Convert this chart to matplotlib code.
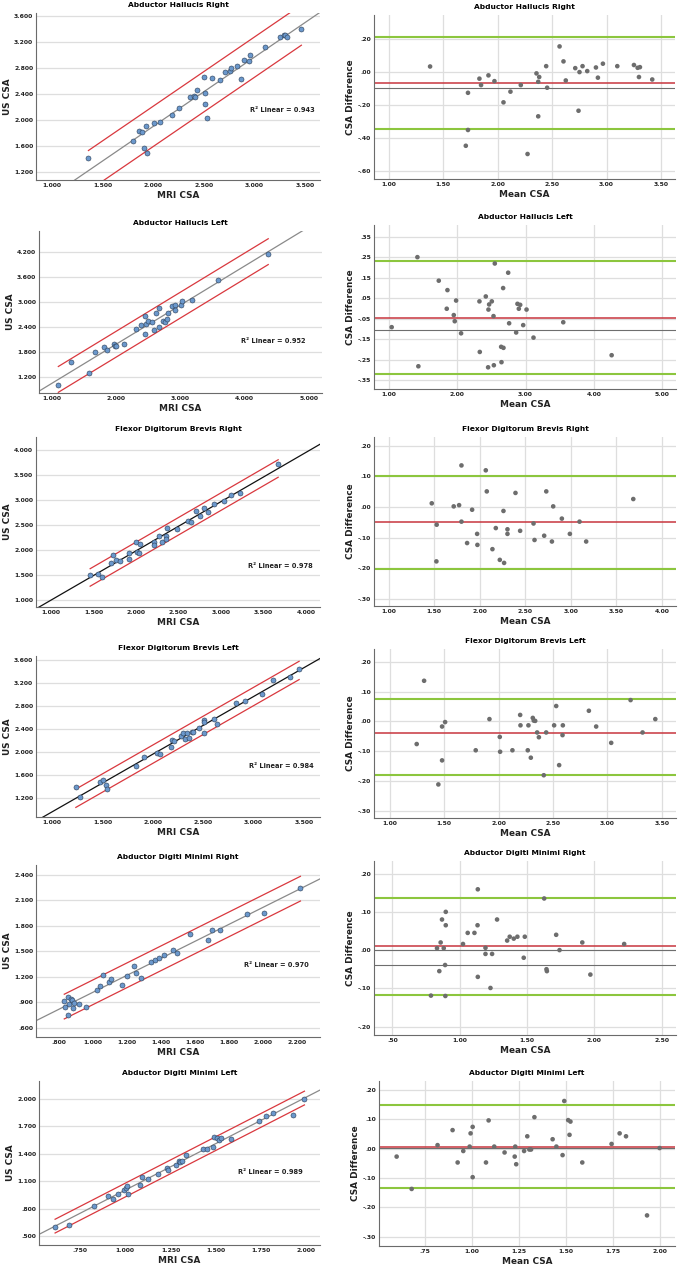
import numpy as np
import matplotlib.pyplot as plt
from matplotlib.ticker import FuncFormatter

titles = ["Abductor Hallucis Right", "Abductor Hallucis Left",
          "Flexor Digitorum Brevis Right", "Flexor Digitorum Brevis Left",
          "Abductor Digiti Minimi Right", "Abductor Digiti Minimi Left"]

# ---- MRI vs US scatter data ----
ahr_mri = [1.361, 1.797, 1.856, 1.89, 1.925, 1.909, 1.935, 2.004, 2.063, 2.184, 2.257, 2.368,
           2.40, 2.41, 2.43, 2.51, 2.516, 2.529, 2.50, 2.578, 2.657, 2.71, 2.76, 2.77, 2.83,
           2.87, 2.90, 2.946, 2.952, 3.10, 3.254, 3.29, 3.30, 3.32, 3.464]
ahr_us = [1.415, 1.682, 1.825, 1.82, 1.913, 1.569, 1.497, 1.954, 1.974, 2.072, 2.179, 2.359,
          2.364, 2.359, 2.462, 2.415, 2.246, 2.036, 2.656, 2.646, 2.61, 2.733, 2.754, 2.795, 2.83,
          2.63, 2.918, 2.90, 2.995, 3.118, 3.277, 3.30, 3.31, 3.28, 3.40]

ahl_mri = [1.104, 1.301, 1.587, 1.675, 1.821, 1.857, 1.977, 1.987, 2.008, 2.127, 2.314, 2.397,
           2.449, 2.449, 2.47, 2.50, 2.558, 2.595, 2.631, 2.673, 2.673, 2.73, 2.771, 2.792, 2.808,
           2.875, 2.917, 2.927, 3.016, 3.026, 3.192, 3.592, 4.371]
ahl_us = [1.008, 1.56, 1.304, 1.808, 1.92, 1.864, 2.008, 1.944, 1.944, 2.008, 2.36, 2.464,
          2.672, 2.248, 2.48, 2.544, 2.536, 2.328, 2.736, 2.856, 2.416, 2.56, 2.536, 2.60, 2.744,
          2.92, 2.944, 2.824, 2.944, 3.032, 3.064, 3.544, 4.168]

fdbr_mri = [1.461, 1.555, 1.602, 1.711, 1.73, 1.766, 1.813, 1.914, 1.914, 2.004, 2.008, 2.035,
            2.047, 2.211, 2.211, 2.266, 2.305, 2.348, 2.352, 2.367, 2.484, 2.613, 2.652, 2.707,
            2.754, 2.805, 2.844, 2.918, 3.035, 3.117, 3.227, 3.672]
fdbr_us = [1.487, 1.507, 1.453, 1.727, 1.887, 1.793, 1.78, 1.927, 1.82, 2.147, 1.953, 1.927,
           2.113, 2.153, 2.087, 2.273, 2.153, 2.28, 2.207, 2.433, 2.42, 2.58, 2.56, 2.767,
           2.673, 2.827, 2.753, 2.907, 2.967, 3.093, 3.133, 3.72]

fdbl_mri = [1.237, 1.277, 1.478, 1.504, 1.537, 1.55, 1.837, 1.912, 2.038, 2.067, 2.179, 2.189,
            2.206, 2.278, 2.304, 2.318, 2.337, 2.36, 2.384, 2.403, 2.463, 2.506, 2.512, 2.512,
            2.604, 2.637, 2.822, 2.917, 3.085, 3.19, 3.358, 3.451]
fdbl_us = [1.386, 1.212, 1.479, 1.508, 1.415, 1.345, 1.748, 1.916, 1.986, 1.969, 2.086, 2.214,
           2.196, 2.272, 2.324, 2.22, 2.336, 2.237, 2.342, 2.353, 2.423, 2.563, 2.517, 2.33,
           2.58, 2.493, 2.86, 2.895, 3.012, 3.256, 3.315, 3.454]

admr_mri = [0.835, 0.839, 0.855, 0.861, 0.873, 0.881, 0.884, 0.890, 0.855, 0.923, 0.964, 1.026,
            1.046, 1.065, 1.098, 1.112, 1.176, 1.205, 1.245, 1.256, 1.288, 1.346, 1.366, 1.393,
            1.42, 1.473, 1.494, 1.572, 1.681, 1.705, 1.748, 1.908, 2.009, 2.221]
admr_us = [0.920, 0.842, 0.959, 0.881, 0.936, 0.924, 0.838, 0.889, 0.748, 0.881, 0.842, 1.049,
           1.096, 1.228, 1.142, 1.178, 1.107, 1.205, 1.326, 1.248, 1.189, 1.373, 1.40, 1.424,
           1.459, 1.514, 1.483, 1.709, 1.635, 1.748, 1.756, 1.936, 1.951, 2.244]

adml_mri = [0.612, 0.691, 0.829, 0.907, 0.932, 0.962, 0.993, 1.002, 1.010, 1.014, 1.082, 1.094,
            1.124, 1.181, 1.233, 1.238, 1.282, 1.297, 1.304, 1.315, 1.334, 1.431, 1.450, 1.485,
            1.492, 1.509, 1.518, 1.527, 1.586, 1.738, 1.780, 1.817, 1.930, 1.991]
adml_us = [0.598, 0.627, 0.836, 0.941, 0.909, 0.963, 1.003, 1.028, 1.050, 0.967, 1.064, 1.147,
           1.129, 1.176, 1.241, 1.219, 1.284, 1.324, 1.31, 1.317, 1.393, 1.451, 1.458, 1.476,
           1.580, 1.573, 1.552, 1.573, 1.566, 1.754, 1.816, 1.845, 1.819, 2.0]

r2_values = ["0.943", "0.952", "0.978", "0.984", "0.970", "0.989"]
band_half = [0.31, 0.31, 0.175, 0.16, 0.145, 0.075]   # half width of red lines

# ---- Bland-Altman data ----
ahr_ba_mean = [1.380, 1.708, 1.728, 1.728, 1.833, 1.848, 1.916, 1.971, 2.054, 2.118, 2.213, 2.275,
               2.357, 2.382, 2.373, 2.373, 2.446, 2.455, 2.569, 2.605, 2.626, 2.713, 2.743, 2.752,
               2.78, 2.823, 2.903, 2.921, 2.967, 3.099, 3.252, 3.286, 3.298, 3.307, 3.42]
ahr_ba_diff = [0.035, -0.447, -0.125, -0.351, -0.039, -0.078, -0.019, -0.054, -0.183, -0.118,
               -0.078, -0.497, -0.007, -0.029, -0.058, -0.268, 0.037, -0.094, 0.157, 0.066, -0.05,
               0.025, -0.234, 0.001, 0.037, 0.007, 0.029, -0.033, 0.052, 0.037, 0.044, 0.027,
               -0.029, 0.031, -0.044]

ahl_ba_mean = [1.039, 1.416, 1.43, 1.729, 1.856, 1.846, 1.949, 1.963, 1.983, 2.056, 2.325, 2.33,
               2.418, 2.457, 2.467, 2.452, 2.506, 2.531, 2.536, 2.55, 2.643, 2.648, 2.677, 2.672,
               2.746, 2.76, 2.863, 2.882, 2.902, 2.922, 2.966, 3.015, 3.117, 3.553, 4.262]
ahl_ba_diff = [-0.092, 0.25, -0.283, 0.135, 0.089, -0.002, -0.033, -0.063, 0.038, -0.122, 0.034,
               -0.213, 0.058, -0.006, 0.019, -0.288, 0.034, -0.038, -0.278, 0.219, -0.188, -0.263,
               -0.193, 0.099, 0.174, -0.073, -0.118, 0.022, -0.002, 0.017, -0.082, -0.006, -0.143,
               -0.068, -0.229]

fdbr_ba_mean = [1.473, 1.527, 1.524, 1.714, 1.773, 1.799, 1.799, 1.861, 1.916, 1.971, 1.974, 2.066,
                2.077, 2.139, 2.176, 2.22, 2.26, 2.267, 2.304, 2.304, 2.392, 2.443, 2.59, 2.601,
                2.707, 2.73, 2.792, 2.806, 2.901, 2.989, 3.095, 3.168, 3.685]
fdbr_ba_diff = [0.012, -0.058, -0.178, 0.002, 0.006, 0.136, -0.048, -0.118, -0.009, -0.088, -0.124,
                0.12, 0.051, -0.138, -0.069, -0.173, -0.013, -0.183, -0.073, -0.088, 0.046, -0.078,
                -0.054, -0.108, -0.094, 0.051, -0.113, 0.002, -0.038, -0.088, -0.048, -0.113, 0.026]

fdbl_ba_mean = [1.248, 1.316, 1.447, 1.481, 1.481, 1.509, 1.79, 1.916, 2.011, 2.014, 2.127, 2.198,
                2.201, 2.268, 2.274, 2.296, 2.314, 2.323, 2.336, 2.354, 2.37, 2.415, 2.437, 2.51,
                2.529, 2.556, 2.587, 2.59, 2.829, 2.896, 3.034, 3.212, 3.322, 3.439]
fdbl_ba_diff = [-0.076, 0.137, -0.212, -0.017, -0.131, -0.002, -0.097, 0.008, -0.052, -0.102,
                -0.097, 0.022, -0.013, -0.097, -0.013, -0.122, 0.012, 0.003, 0.002, -0.037, -0.053,
                -0.181, -0.037, -0.013, 0.052, -0.147, -0.046, -0.013, 0.036, -0.017, -0.072, 0.072,
                -0.037, 0.008]

admr_ba_mean = [0.787, 0.832, 0.859, 0.849, 0.869, 0.882, 0.892, 0.897, 0.897, 0.894, 1.025, 1.06,
                1.11, 1.135, 1.133, 1.135, 1.192, 1.192, 1.229, 1.241, 1.278, 1.353, 1.372, 1.402,
                1.429, 1.476, 1.484, 1.628, 1.645, 1.648, 1.717, 1.742, 1.911, 1.971, 2.222]
admr_ba_diff = [-0.119, 0.005, 0.02, -0.055, 0.08, 0.005, -0.039, 0.1, 0.065, -0.12, 0.016, 0.045,
                0.045, -0.07, 0.065, 0.159, 0.006, -0.01, -0.099, -0.01, 0.08, 0.025, 0.035, 0.03,
                0.035, -0.02, 0.035, 0.135, -0.05, -0.055, 0.04, 0.0, 0.02, -0.064, 0.016]

adml_ba_mean = [0.599, 0.679, 0.817, 0.897, 0.924, 0.954, 0.988, 0.993, 1.004, 1.004, 1.075, 1.089,
                1.119, 1.174, 1.228, 1.231, 1.236, 1.278, 1.295, 1.306, 1.315, 1.333, 1.43, 1.45,
                1.483, 1.492, 1.513, 1.525, 1.52, 1.588, 1.744, 1.787, 1.821, 1.933, 2.0]
adml_ba_diff = [-0.027, -0.137, 0.012, 0.063, -0.047, -0.008, 0.007, 0.052, 0.074, -0.097, -0.047,
                0.096, 0.007, -0.013, -0.027, 0.007, -0.053, -0.008, 0.042, -0.003, -0.003, 0.107,
                0.032, 0.007, -0.022, 0.162, 0.097, 0.092, 0.047, -0.047, 0.016, 0.052, 0.042,
                -0.227, 0.002]

ba_bias = [-0.066, -0.045, -0.049, -0.038, 0.011, 0.005]
ba_upper = [0.216, 0.229, 0.103, 0.074, 0.137, 0.147]
ba_lower = [-0.343, -0.322, -0.202, -0.181, -0.117, -0.134]
ba_extra = [[-0.098], [-0.108], [], [], [0.0, -0.038], [0.001]]

scatter_sets = [(ahr_mri, ahr_us), (ahl_mri, ahl_us), (fdbr_mri, fdbr_us),
                (fdbl_mri, fdbl_us), (admr_mri, admr_us), (adml_mri, adml_us)]
ba_sets = [(ahr_ba_mean, ahr_ba_diff), (ahl_ba_mean, ahl_ba_diff), (fdbr_ba_mean, fdbr_ba_diff),
           (fdbl_ba_mean, fdbl_ba_diff), (admr_ba_mean, admr_ba_diff), (adml_ba_mean, adml_ba_diff)]

# ---- layout (pixels: left, right, top, bottom) ----
W, H = 685, 1270
left_boxes = [(36, 320, 13, 180), (39, 322, 231, 393), (36, 320, 437, 607),
              (36, 320, 656, 817), (36, 320, 865, 1037), (39, 320, 1081, 1245)]
right_boxes = [(374, 675, 15, 179), (374, 676, 225, 389), (374, 676, 437, 606),
               (374, 676, 649, 818), (374, 676, 861, 1035), (379, 675, 1081, 1246)]

sc_xlim = [(0.843, 3.648), (0.803, 5.208), (0.824, 4.164), (0.842, 3.658), (0.669, 2.336), (0.523, 2.077)]
sc_ylim = [(1.077, 3.646), (0.824, 4.712), (0.853, 4.253), (0.862, 3.676), (0.495, 2.513), (0.406, 2.195)]
sc_xt = [(1.0, 3.5, 0.5), (1.0, 5.0, 1.0), (1.0, 4.0, 0.5), (1.0, 3.5, 0.5), (0.8, 2.2, 0.2), (0.75, 2.0, 0.25)]
sc_yt = [(1.2, 3.6, 0.4), (1.2, 4.2, 0.6), (1.0, 4.0, 0.5), (1.2, 3.6, 0.4), (0.6, 2.4, 0.3), (0.5, 2.0, 0.3)]
r2_pos = [(0.866, 0.418), (0.827, 0.323), (0.862, 0.241), (0.865, 0.315), (0.848, 0.42), (0.823, 0.444)]
fit_colors = ["#8a8a8a", "#8a8a8a", "#111111", "#111111", "#8a8a8a", "#8a8a8a"]

ba_xlim = [(0.865, 3.629), (0.78, 5.205), (0.839, 4.154), (0.856, 3.629), (0.364, 2.607), (0.505, 2.082)]
ba_ylim = [(-0.649, 0.348), (-0.394, 0.407), (-0.324, 0.229), (-0.325, 0.244), (-0.222, 0.233), (-0.331, 0.23)]
ba_xt = [(1.0, 3.5, 0.5), (1.0, 5.0, 1.0), (1.0, 4.0, 0.5), (1.0, 3.5, 0.5), (0.5, 2.5, 0.5), (0.75, 2.0, 0.25)]
ba_yt = [(-0.6, 0.2, 0.2), (-0.35, 0.35, 0.1), (-0.3, 0.2, 0.1), (-0.3, 0.2, 0.1), (-0.2, 0.2, 0.1), (-0.3, 0.2, 0.1)]


def spss_fmt(nd):
    def f(v, pos):
        v = round(v, nd)
        if v == 0:
            v = 0.0
        s = f"{v:.{nd}f}"
        return s.replace("0.", ".", 1) if s.startswith(("0.", "-0.")) else s
    return FuncFormatter(f)


def ticks(a, b, step):
    n = int(round((b - a) / step))
    return [a + i * step for i in range(n + 1)]


def style_axes(ax, nd, vgrid):
    for s in ["top", "right"]:
        ax.spines[s].set_visible(False)
    for s in ["left", "bottom"]:
        ax.spines[s].set_color("#6b6b6b")
        ax.spines[s].set_linewidth(0.8)
    ax.grid(axis="y", color="#dedede", linewidth=0.9)
    if vgrid:
        ax.grid(axis="x", color="#dedede", linewidth=0.9)
    ax.set_axisbelow(True)
    ax.tick_params(length=0, labelsize=4.4, pad=2, colors="#222222")
    for lab in ax.get_xticklabels() + ax.get_yticklabels():
        lab.set_fontweight("bold")
    ax.xaxis.set_major_formatter(spss_fmt(nd))
    ax.yaxis.set_major_formatter(spss_fmt(nd))


fig = plt.figure(figsize=(W / 100, H / 100), dpi=100)

for i in range(6):
    # scatter with fit
    l, r, t, b = left_boxes[i]
    ax = fig.add_axes([l / W, 1 - b / H, (r - l) / W, (b - t) / H])
    x = np.array(scatter_sets[i][0])
    y = np.array(scatter_sets[i][1])
    slope, icpt = np.polyfit(x, y, 1)
    xx = np.array(sc_xlim[i])
    ax.plot(xx, slope * xx + icpt, color=fit_colors[i], lw=0.9, zorder=2)
    xb = np.array([x.min(), x.max()])
    ax.plot(xb, slope * xb + icpt + band_half[i], color="#d9383e", lw=0.9, zorder=2)
    ax.plot(xb, slope * xb + icpt - band_half[i], color="#d9383e", lw=0.9, zorder=2)
    ax.scatter(x, y, s=13, color="#6b98cc", edgecolor="#2c3e55", linewidth=0.4, zorder=3)
    ax.set_xlim(sc_xlim[i])
    ax.set_ylim(sc_ylim[i])
    ax.set_xticks(ticks(*sc_xt[i]))
    ax.set_yticks(ticks(*sc_yt[i]))
    style_axes(ax, 3, False)
    ax.set_title(titles[i], fontsize=5.4, fontweight="bold", pad=4)
    ax.set_xlabel("MRI CSA", fontsize=6.4, fontweight="bold", labelpad=2, color="#222222")
    ax.set_ylabel("US CSA", fontsize=6.4, fontweight="bold", labelpad=1.5, color="#222222")
    ax.text(r2_pos[i][0], r2_pos[i][1], "R² Linear = " + r2_values[i], transform=ax.transAxes,
            ha="center", va="center", fontsize=4.8, fontweight="bold", color="#222222")

    # Bland-Altman
    l, r, t, b = right_boxes[i]
    ax = fig.add_axes([l / W, 1 - b / H, (r - l) / W, (b - t) / H])
    mx = np.array(ba_sets[i][0])
    dy = np.array(ba_sets[i][1])
    for g in ba_extra[i]:
        ax.axhline(g, color="#6e6e6e", lw=0.8, zorder=2)
    ax.axhline(ba_upper[i], color="#8cc63e", lw=1.5, zorder=2)
    ax.axhline(ba_lower[i], color="#8cc63e", lw=1.5, zorder=2)
    ax.axhline(ba_bias[i], color="#c8363e", lw=1.1, zorder=2)
    ax.scatter(mx, dy, s=11, color="#6d6d6d", edgecolor="none", zorder=3)
    ax.set_xlim(ba_xlim[i])
    ax.set_ylim(ba_ylim[i])
    ax.set_xticks(ticks(*ba_xt[i]))
    ax.set_yticks(ticks(*ba_yt[i]))
    style_axes(ax, 2, True)
    ax.set_title(titles[i], fontsize=5.4, fontweight="bold", pad=4)
    ax.set_xlabel("Mean CSA", fontsize=6.4, fontweight="bold", labelpad=2, color="#222222")
    ax.set_ylabel("CSA Difference", fontsize=6.4, fontweight="bold", labelpad=2, color="#222222")

fig.savefig("out.png", dpi=100, facecolor="white")
